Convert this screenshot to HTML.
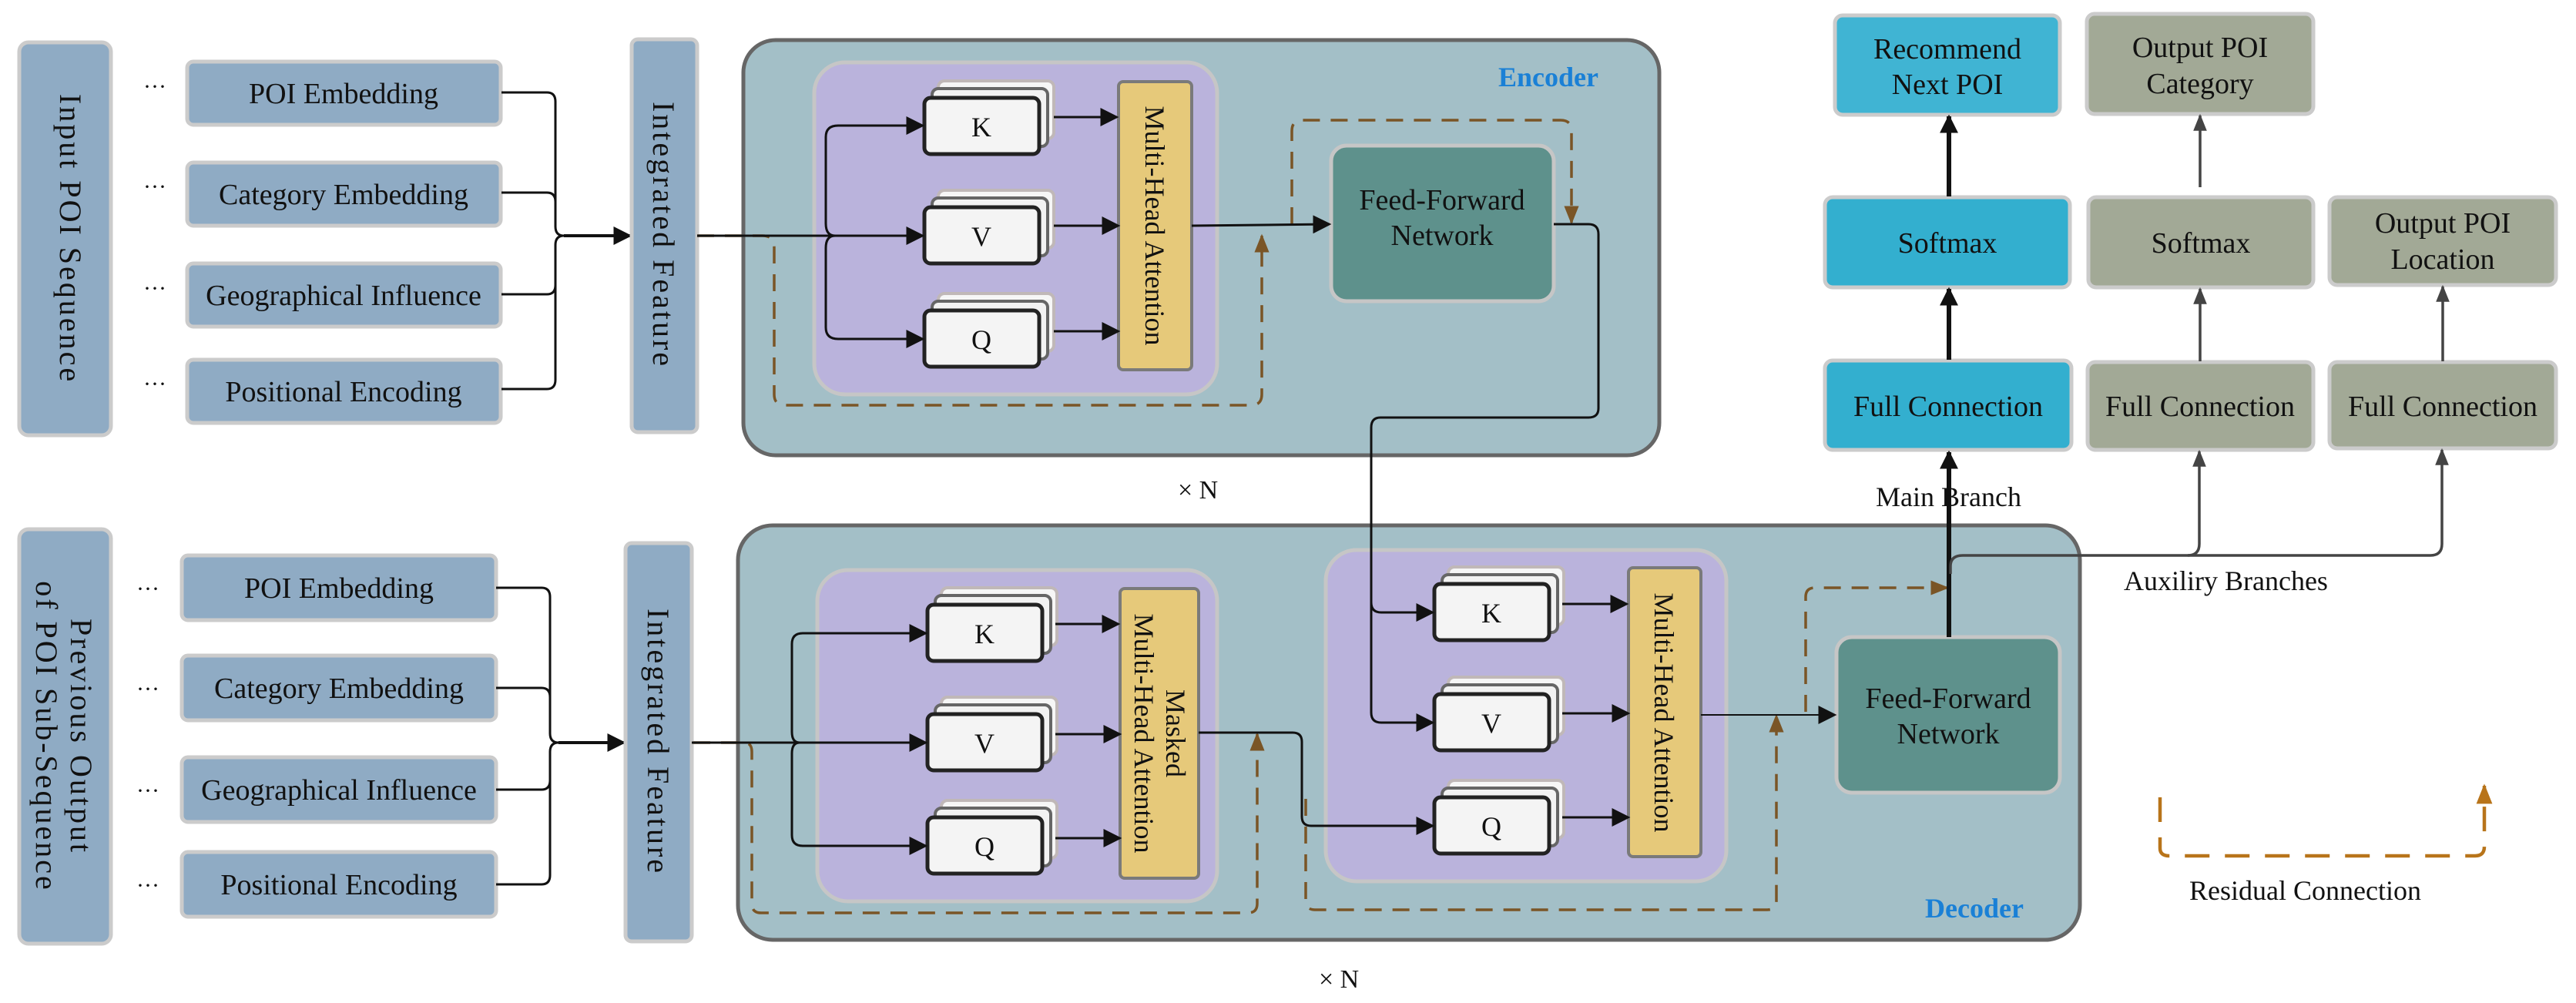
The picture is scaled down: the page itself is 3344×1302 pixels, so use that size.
<!DOCTYPE html>
<html><head><meta charset="utf-8"><style>
html,body{margin:0;padding:0;background:#fff;}
svg{display:block;}
text{font-family:"Liberation Serif",serif;fill:#111;}
</style></head><body>
<svg width="3344" height="1302" viewBox="0 0 3344 1302" xmlns="http://www.w3.org/2000/svg">
<defs>
<marker id="abk" viewBox="0 0 10 10" refX="9" refY="5" markerWidth="24" markerHeight="24" markerUnits="userSpaceOnUse" orient="auto"><path d="M0,0L10,5L0,10z" fill="#111"/></marker>
<marker id="ag" viewBox="0 0 10 10" refX="9" refY="5" markerWidth="22" markerHeight="22" markerUnits="userSpaceOnUse" orient="auto"><path d="M0,1L10,5L0,9z" fill="#444"/></marker>
<marker id="abr" viewBox="0 0 10 10" refX="9" refY="5" markerWidth="24" markerHeight="24" markerUnits="userSpaceOnUse" orient="auto"><path d="M0,1L10,5L0,9z" fill="#7a5526"/></marker>
<marker id="aor" viewBox="0 0 10 10" refX="9" refY="5" markerWidth="26" markerHeight="26" markerUnits="userSpaceOnUse" orient="auto"><path d="M0,1L10,5L0,9z" fill="#b8741a"/></marker>
<g id="stk">
<rect x="18" y="-22" width="150" height="75" rx="8" fill="#f6f6f6" stroke="#c0b8b8" stroke-width="4"/>
<rect x="10" y="-12" width="150" height="75" rx="8" fill="#f2f2f2" stroke="#666" stroke-width="4"/>
<rect x="0" y="0" width="149" height="73" rx="8" fill="#f4f4f4" stroke="#222" stroke-width="5"/>
</g>
</defs>

<!-- Left input boxes (encoder) -->
<rect x="25" y="55" width="119" height="510" rx="12" fill="#8fabc4" stroke="#cbcbcb" stroke-width="5"/>
<text transform="translate(78,310) rotate(90)" font-size="40" text-anchor="middle" letter-spacing="3">Input  POI  Sequence</text>
<g font-size="38" text-anchor="middle">
<rect x="243" y="80" width="407" height="82" rx="8" fill="#8fabc4" stroke="#cbcbcb" stroke-width="5"/><text x="446" y="134">POI Embedding</text>
<rect x="243" y="211" width="407" height="82" rx="8" fill="#8fabc4" stroke="#cbcbcb" stroke-width="5"/><text x="446" y="265">Category Embedding</text>
<rect x="243" y="342" width="407" height="82" rx="8" fill="#8fabc4" stroke="#cbcbcb" stroke-width="5"/><text x="446" y="396">Geographical Influence</text>
<rect x="243" y="467" width="407" height="82" rx="8" fill="#8fabc4" stroke="#cbcbcb" stroke-width="5"/><text x="446" y="521">Positional Encoding</text>
</g>
<g font-size="30"><text x="186" y="122">···</text><text x="186" y="252">···</text><text x="186" y="384">···</text><text x="186" y="508">···</text></g>
<g fill="none" stroke="#111" stroke-width="3">
<path d="M651 120 H710 Q721 120 721 132 V294 Q721 306 732 306 Q721 306 721 318 V493 Q721 505 710 505 H651"/>
<path d="M651 250 H710 Q721 250 721 262 V294"/>
<path d="M651 382 H710 Q721 382 721 370 V318"/>
<path d="M732 306 H818" stroke-width="4" marker-end="url(#abk)"/>
</g>
<rect x="820" y="51" width="85" height="510" rx="8" fill="#8fabc4" stroke="#cbcbcb" stroke-width="5"/>
<text transform="translate(848,305) rotate(90)" font-size="40" text-anchor="middle" letter-spacing="3">Integrated  Feature</text>

<!-- Encoder -->
<rect x="965" y="52" width="1189" height="539" rx="42" fill="#a3bfc7" stroke="#666" stroke-width="5"/>
<text x="1945" y="112" font-size="36" font-weight="bold" style="fill:#1a80d6">Encoder</text>
<rect x="1057" y="81" width="523" height="431" rx="40" fill="#bab3dc" stroke="#c6c6c6" stroke-width="5"/>
<use href="#stk" x="1200" y="127"/><use href="#stk" x="1200" y="269"/><use href="#stk" x="1200" y="403"/>
<g font-size="36" text-anchor="middle"><text x="1274" y="177">K</text><text x="1274" y="319">V</text><text x="1274" y="453">Q</text></g>
<rect x="1452" y="106" width="95" height="374" rx="6" fill="#e6c97a" stroke="#7a7a7a" stroke-width="4"/>
<text transform="translate(1487,293) rotate(90)" font-size="36" text-anchor="middle">Multi-Head Attention</text>
<rect x="1728" y="189" width="289" height="202" rx="20" fill="#5e918c" stroke="#c6c6c6" stroke-width="5"/>
<g font-size="38" text-anchor="middle"><text x="1872" y="272">Feed-Forward</text><text x="1872" y="318">Network</text></g>
<g fill="none" stroke="#7a5526" stroke-width="3.5" stroke-dasharray="22 14">
<path d="M905 306 H990 Q1005 306 1005 322 V512 Q1005 526 1019 526 H1624 Q1638 526 1638 512 V306" marker-end="url(#abr)"/>
<path d="M1677 291 V170 Q1677 156 1691 156 H2026 Q2040 156 2040 170 V289" marker-end="url(#abr)"/>
</g>
<g fill="none" stroke="#111" stroke-width="3">
<path d="M905 306 H1084"/>
<path d="M1084 306 Q1072 306 1072 290 V178 Q1072 163 1088 163 H1198" marker-end="url(#abk)"/>
<path d="M1084 306 H1198" marker-end="url(#abk)"/>
<path d="M1084 306 Q1072 306 1072 322 V425 Q1072 440 1088 440 H1198" marker-end="url(#abk)"/>
<path d="M1368 152 H1450" marker-end="url(#abk)"/>
<path d="M1368 293 H1452" marker-end="url(#abk)"/>
<path d="M1368 430 H1452" marker-end="url(#abk)"/>
<path d="M1547 293 L1726 291" marker-end="url(#abk)"/>
</g>
<text x="1529" y="647" font-size="34">× N</text>

<!-- Left input boxes (decoder) -->
<rect x="25" y="687" width="119" height="538" rx="12" fill="#8fabc4" stroke="#cbcbcb" stroke-width="5"/>
<g font-size="40" text-anchor="middle" letter-spacing="3">
<text transform="translate(92,956) rotate(90)">Previous  Output</text>
<text transform="translate(47,956) rotate(90)">of POI  Sub-Sequence</text>
</g>
<g font-size="38" text-anchor="middle">
<rect x="236" y="721" width="408" height="84" rx="8" fill="#8fabc4" stroke="#cbcbcb" stroke-width="5"/><text x="440" y="776">POI Embedding</text>
<rect x="236" y="851" width="408" height="84" rx="8" fill="#8fabc4" stroke="#cbcbcb" stroke-width="5"/><text x="440" y="906">Category Embedding</text>
<rect x="236" y="983" width="408" height="84" rx="8" fill="#8fabc4" stroke="#cbcbcb" stroke-width="5"/><text x="440" y="1038">Geographical Influence</text>
<rect x="236" y="1106" width="408" height="84" rx="8" fill="#8fabc4" stroke="#cbcbcb" stroke-width="5"/><text x="440" y="1161">Positional Encoding</text>
</g>
<g font-size="30"><text x="177" y="774">···</text><text x="177" y="904">···</text><text x="177" y="1036">···</text><text x="177" y="1159">···</text></g>
<g fill="none" stroke="#111" stroke-width="3">
<path d="M644 763 H703 Q714 763 714 775 V952 Q714 964 725 964 Q714 964 714 976 V1136 Q714 1148 703 1148 H644"/>
<path d="M644 893 H703 Q714 893 714 905 V952"/>
<path d="M644 1025 H703 Q714 1025 714 1013 V976"/>
<path d="M725 964 H810" stroke-width="4" marker-end="url(#abk)"/>
</g>
<rect x="812" y="705" width="86" height="517" rx="8" fill="#8fabc4" stroke="#cbcbcb" stroke-width="5"/>
<text transform="translate(841,963) rotate(90)" font-size="40" text-anchor="middle" letter-spacing="3">Integrated  Feature</text>

<!-- Decoder -->
<rect x="958" y="682" width="1742" height="538" rx="45" fill="#a3bfc7" stroke="#666" stroke-width="5"/>
<text x="2499" y="1191" font-size="36" font-weight="bold" style="fill:#1a80d6">Decoder</text>
<rect x="1061" y="740" width="519" height="430" rx="40" fill="#bab3dc" stroke="#c6c6c6" stroke-width="5"/>
<rect x="1721" y="714" width="520" height="430" rx="40" fill="#bab3dc" stroke="#c6c6c6" stroke-width="5"/>
<use href="#stk" x="1204" y="785"/><use href="#stk" x="1204" y="927"/><use href="#stk" x="1204" y="1061"/>
<use href="#stk" x="1862" y="758"/><use href="#stk" x="1862" y="901"/><use href="#stk" x="1862" y="1035"/>
<g font-size="36" text-anchor="middle"><text x="1278" y="835">K</text><text x="1278" y="977">V</text><text x="1278" y="1111">Q</text>
<text x="1936" y="808">K</text><text x="1936" y="951">V</text><text x="1936" y="1085">Q</text></g>
<rect x="1454" y="764" width="102" height="376" rx="6" fill="#e6c97a" stroke="#7a7a7a" stroke-width="4"/>
<g font-size="36" text-anchor="middle"><text transform="translate(1514,952) rotate(90)">Masked</text><text transform="translate(1473,952) rotate(90)">Multi-Head Attention</text></g>
<rect x="2114" y="737" width="94" height="375" rx="6" fill="#e6c97a" stroke="#7a7a7a" stroke-width="4"/>
<text transform="translate(2148,925) rotate(90)" font-size="36" text-anchor="middle">Multi-Head Attention</text>
<rect x="2384" y="827" width="290" height="202" rx="20" fill="#5e918c" stroke="#c6c6c6" stroke-width="5"/>
<g font-size="38" text-anchor="middle"><text x="2529" y="919">Feed-Forward</text><text x="2529" y="965">Network</text></g>
<g fill="none" stroke="#7a5526" stroke-width="3.5" stroke-dasharray="22 14">
<path d="M900 964 H966 Q976 964 976 976 V1173 Q976 1185 988 1185 H1620 Q1632 1185 1632 1173 V953" marker-end="url(#abr)"/>
<path d="M1695 1037 V1169 Q1695 1181 1707 1181 H2294 Q2306 1181 2306 1169 V929" marker-end="url(#abr)"/>
<path d="M2344 924 V775 Q2344 763 2356 763 H2528" marker-end="url(#abr)"/>
</g>
<g fill="none" stroke="#111" stroke-width="3">
<path d="M898 964 H1038"/>
<path d="M1038 964 Q1028 964 1028 950 V836 Q1028 822 1042 822 H1202" marker-end="url(#abk)"/>
<path d="M1038 964 H1202" marker-end="url(#abk)"/>
<path d="M1038 964 Q1028 964 1028 978 V1084 Q1028 1098 1042 1098 H1202" marker-end="url(#abk)"/>
<path d="M1370 810 H1452" marker-end="url(#abk)"/>
<path d="M1370 953 H1454" marker-end="url(#abk)"/>
<path d="M1370 1088 H1454" marker-end="url(#abk)"/>
<path d="M1556 951 H1678 Q1690 951 1690 963 V1060 Q1690 1072 1702 1072 H1860" marker-end="url(#abk)"/>
<path d="M2028 784 H2112" marker-end="url(#abk)"/>
<path d="M2028 926 H2114" marker-end="url(#abk)"/>
<path d="M2028 1061 H2114" marker-end="url(#abk)"/>
<path d="M2208 928 H2382" stroke-width="2" marker-end="url(#abk)"/>
<path d="M2017 291 H2062 Q2075 291 2075 304 V530 Q2075 542 2062 542 H1792 Q1780 542 1780 555 V782 Q1780 795 1793 795 H1860" marker-end="url(#abk)"/>
<path d="M1780 780 V925 Q1780 938 1793 938 H1860" marker-end="url(#abk)"/>
</g>
<text x="1712" y="1282" font-size="34">× N</text>

<!-- Output heads -->
<g font-size="38" text-anchor="middle">
<rect x="2382" y="20" width="292" height="129" rx="10" fill="#40b4d3" stroke="#cbcbcb" stroke-width="5"/><text x="2528" y="76">Recommend</text><text x="2528" y="122">Next POI</text>
<rect x="2709" y="18" width="294" height="130" rx="10" fill="#a2a996" stroke="#cbcbcb" stroke-width="5"/><text x="2856" y="74">Output POI</text><text x="2856" y="121">Category</text>
<rect x="2369" y="256" width="318" height="117" rx="10" fill="#33afcf" stroke="#cbcbcb" stroke-width="5"/><text x="2528" y="328">Softmax</text>
<rect x="2711" y="256" width="292" height="117" rx="10" fill="#a2a996" stroke="#cbcbcb" stroke-width="5"/><text x="2857" y="328">Softmax</text>
<rect x="3024" y="256" width="294" height="114" rx="10" fill="#a2a996" stroke="#cbcbcb" stroke-width="5"/><text x="3171" y="302">Output POI</text><text x="3171" y="349">Location</text>
<rect x="2369" y="468" width="320" height="116" rx="10" fill="#33afcf" stroke="#cbcbcb" stroke-width="5"/><text x="2529" y="540">Full Connection</text>
<rect x="2710" y="470" width="293" height="114" rx="10" fill="#a2a996" stroke="#cbcbcb" stroke-width="5"/><text x="2856" y="540">Full Connection</text>
<rect x="3024" y="470" width="294" height="112" rx="10" fill="#a2a996" stroke="#cbcbcb" stroke-width="5"/><text x="3171" y="540">Full Connection</text>
</g>
<g fill="none" stroke="#111" stroke-width="6">
<path d="M2530 827 V587" marker-end="url(#abk)"/>
<path d="M2530 467 V375" marker-end="url(#abk)"/>
<path d="M2530 255 V151" marker-end="url(#abk)"/>
</g>
<g fill="none" stroke="#444" stroke-width="3.5">
<path d="M2532 745 V735 Q2532 721 2548 721 H2840 Q2855 721 2855 706 V586" marker-end="url(#ag)"/>
<path d="M2840 721 H3155 Q3170 721 3170 706 V584" marker-end="url(#ag)"/>
<path d="M2856 469 V375" marker-end="url(#ag)"/>
<path d="M2856 243 V150" marker-end="url(#ag)"/>
<path d="M3171 469 V372" marker-end="url(#ag)"/>
</g>
<g font-size="36"><text x="2435" y="657">Main  Branch</text><text x="2757" y="766">Auxiliry Branches</text><text x="2842" y="1168">Residual Connection</text></g>
<path d="M2804 1035 V1101 Q2804 1111 2816 1111 H3213 Q3225 1111 3225 1099 V1020" fill="none" stroke="#b8741a" stroke-width="4.5" stroke-dasharray="32 20" marker-end="url(#aor)"/>
</svg>
</body></html>
